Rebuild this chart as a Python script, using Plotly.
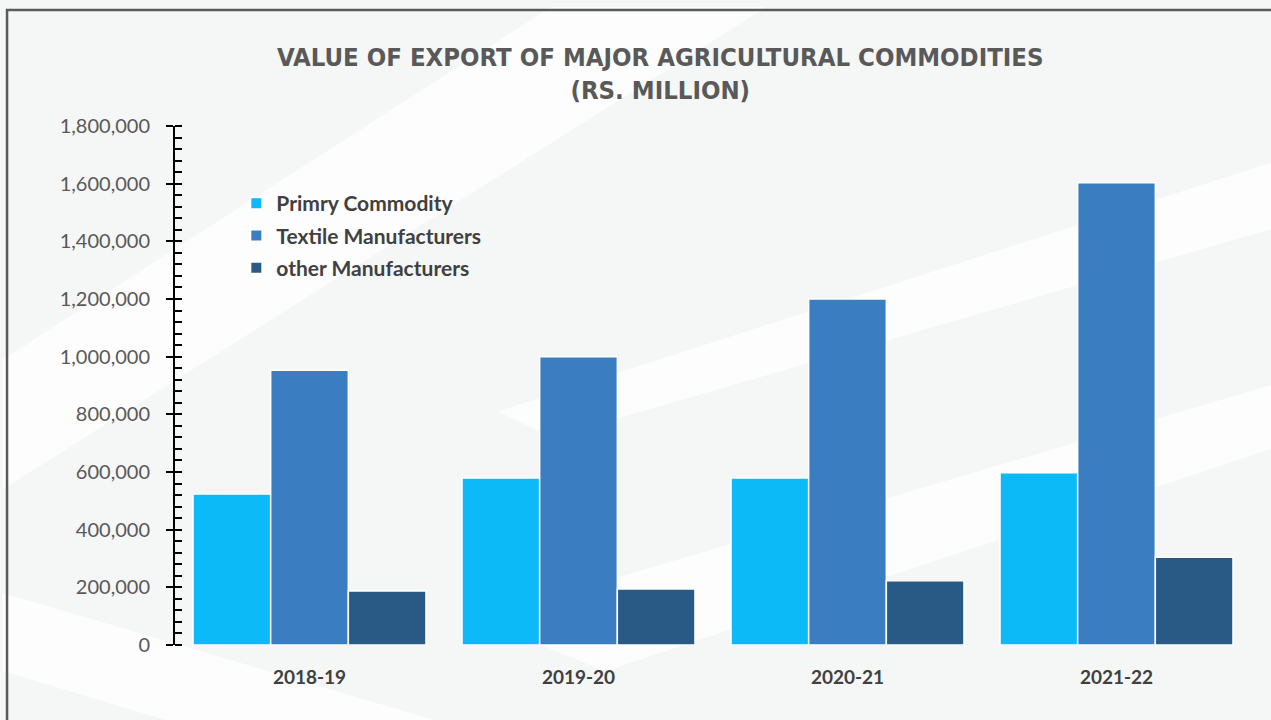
import plotly.graph_objects as go

years = ["2018-19", "2019-20", "2020-21", "2021-22"]
primary = [524000, 579000, 579000, 597000]
textile = [953000, 1000000, 1200000, 1603000]
other = [187000, 194000, 223000, 304000]

series_names = ["Primry Commodity", "Textile Manufacturers", "other Manufacturers"]
colors = ["#0bbaf7", "#3a7ec1", "#295a86"]

fig = go.Figure()
for i, (name, vals, col) in enumerate(zip(series_names, [primary, textile, other], colors)):
    fig.add_trace(go.Bar(
        x=years, y=vals, name=name, legendgroup=f"g{i}",
        marker=dict(color=col, line=dict(color="white", width=1.5)),
    ))

# background decoration: faint diagonal light bands
bands = [
    "M -0.16,0.30 L -0.16,0.55 L 0.35,1.23 L 0.55,1.23 Z",
    "M 0.30,0.45 L 1.05,0.95 L 1.05,0.82 L 0.35,0.40 Z",
    "M 0.28,0.05 L 1.05,0.52 L 1.05,0.40 L 0.40,-0.05 Z",
    "M 0.0,-0.15 L 0.25,-0.15 L -0.16,0.10 L -0.16,-0.05 Z",
]
shapes = []
for p in bands:
    shapes.append(dict(type="path", path=p, xref="paper", yref="paper",
                       fillcolor="#fdfdfd", line=dict(width=0), layer="below"))

fig.update_layout(
    width=1271, height=720,
    margin=dict(l=175, r=20, t=126, b=75),
    paper_bgcolor="#f5f6f6",
    plot_bgcolor="rgba(0,0,0,0)",
    barmode="group",
    bargap=0.134,
    bargroupgap=0.0,
    title=dict(
        text="VALUE OF EXPORT OF MAJOR AGRICULTURAL COMMODITIES<br>(RS. MILLION)",
        x=0.451, xanchor="center", xref="paper",
        y=0.909, yanchor="middle",
        font=dict(family="DejaVu Sans Condensed, sans-serif",
                  size=25.5, color="#595959", weight="bold"),
    ),
    legend=dict(
        x=0.057, y=0.89, xanchor="left", yanchor="top",
        bgcolor="rgba(0,0,0,0)",
        font=dict(family="Lato, Open Sans, sans-serif", size=21, color="#404040", weight="bold"),
        itemsizing="constant",
        tracegroupgap=2,
    ),
    xaxis=dict(
        showgrid=False, showline=False, zeroline=False,
        tickfont=dict(family="Lato, Open Sans, sans-serif", size=19, color="#404040", weight="bold"),
        ticks="", ticklabelstandoff=19,
    ),
    yaxis=dict(
        range=[0, 1800000], dtick=200000, tickformat=",d",
        showgrid=False, zeroline=False,
        showline=True, linecolor="black", linewidth=2,
        ticks="outside", ticklen=7, tickwidth=2, tickcolor="black",
        minor=dict(dtick=40000, ticks="inside", ticklen=7, tickwidth=1.5, tickcolor="black"),
        tickfont=dict(family="Lato, Open Sans, sans-serif", size=20, color="#595959"),
        ticklabelstandoff=12,
    ),
    yaxis2=dict(
        overlaying="y", matches="y", side="left", anchor="x",
        dtick=200000, showticklabels=False, showgrid=False, zeroline=False,
        ticks="inside", ticklen=7, tickwidth=2, tickcolor="black", showline=False,
    ),
    shapes=shapes + [
        dict(type="rect", xref="paper", yref="paper",
             x0=-0.1561, x1=1.08, y0=-0.3, y1=1.2235,
             line=dict(color="#5a5a5a", width=2.5), fillcolor="rgba(0,0,0,0)"),
    ],
    showlegend=True,
)

# invisible trace on yaxis2 so the overlay axis (cross ticks) is drawn
fig.add_trace(go.Scatter(x=[years[0]], y=[0], yaxis="y2", mode="markers",
                         marker=dict(opacity=0), showlegend=False, hoverinfo="skip"))

fig.write_html("out.html", config={"displayModeBar": False},
               post_script="document.body.style.margin='0px';")
